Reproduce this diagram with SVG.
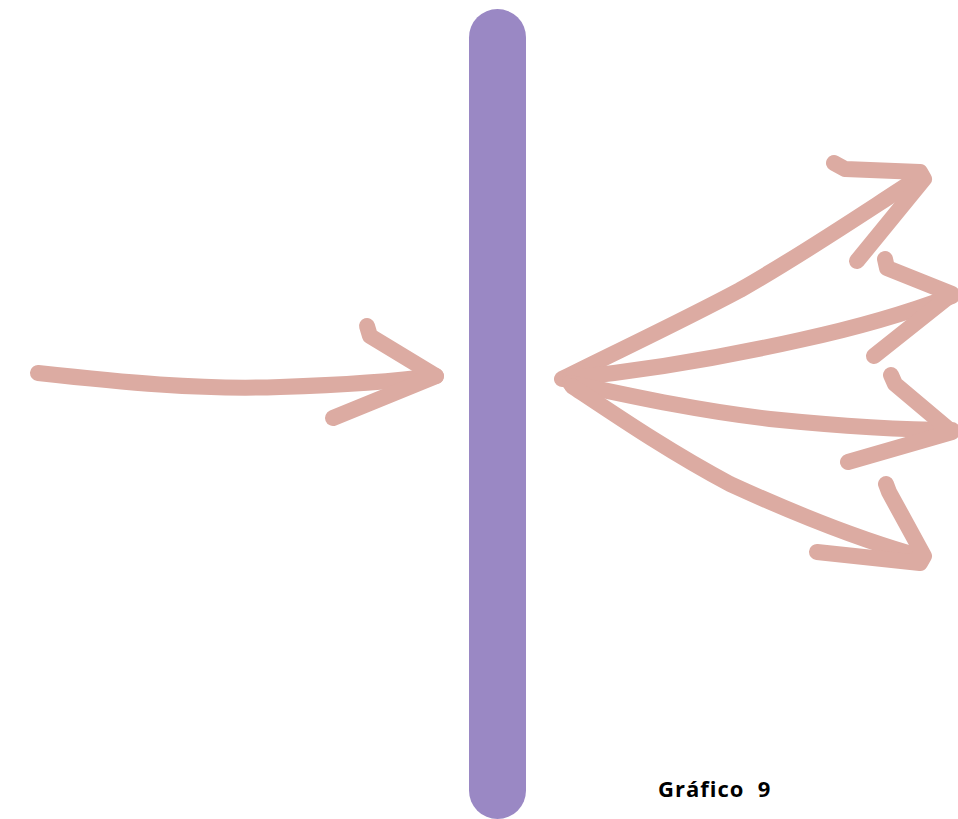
<svg xmlns="http://www.w3.org/2000/svg" width="958" height="819" viewBox="0 0 958 819">
<style>
.a{fill:none;stroke:#dcaba2;stroke-width:16;stroke-linecap:round;stroke-linejoin:round}
.t{font-family:"Open Sans","Noto Sans",sans-serif;font-weight:bold;font-size:22px;letter-spacing:1px;fill:#000;white-space:pre}
</style>
<rect width="958" height="819" fill="#fff"/>
<g id="barrier"><rect x="469" y="9" width="57" height="810" rx="28.5" fill="#9a88c4"/></g>
<g id="connectors">
<g id="incoming">
<path class="a" d="M38,373 C120,382 200,390 280,387 C340,385 390,382 436,376"/>
<path class="a" d="M367,326 L370,336 L436,376 L333,418"/>
</g>
<g id="out1">
<path class="a" d="M562,379 C620,350 680,322 740,290 C800,256 850,222 918,178"/>
<path class="a" d="M834,163 L845,169 L920,172 L924,179 L857,261"/>
</g>
<g id="out2">
<path class="a" d="M570,378 C650,370 720,358 800,340 C860,327 910,312 952,296"/>
<path class="a" d="M885,259 L887,268 L952,294 L874,356"/>
</g>
<g id="out3">
<path class="a" d="M570,383 C640,398 700,411 770,419 C840,426 900,430 952,430"/>
<path class="a" d="M891,375 L895,384 L952,432 L848,462"/>
</g>
<g id="out4">
<path class="a" d="M572,386 C620,418 670,452 730,484 C800,516 860,540 922,557"/>
<path class="a" d="M886,484 L889,492 L924,556 L920,563 L817,552"/>
</g>
</g>
<text class="t" x="658" y="797">Gráfico  9</text>
</svg>
